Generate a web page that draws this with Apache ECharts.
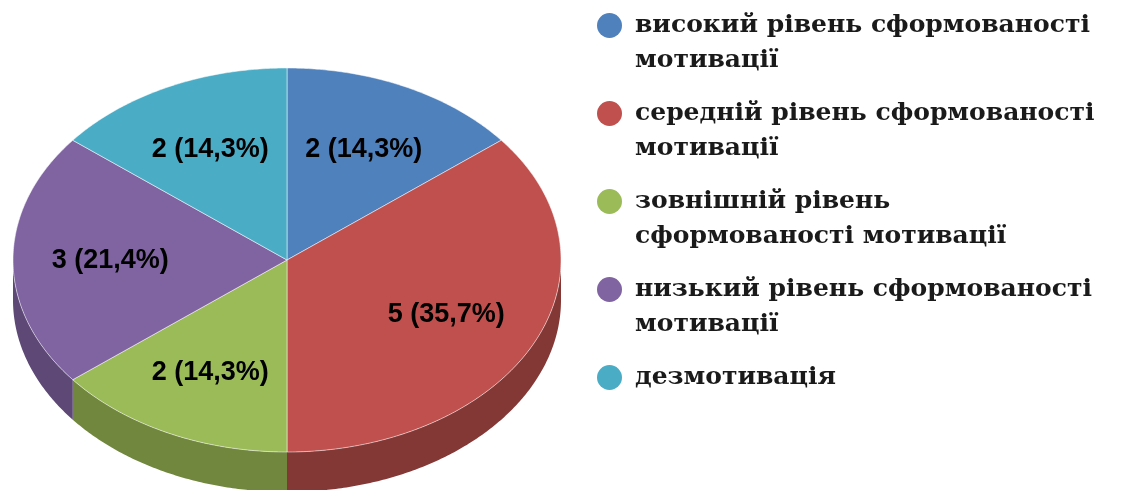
<!DOCTYPE html>
<html>
<head>
<meta charset="utf-8">
<script src="https://cdn.jsdelivr.net/npm/echarts@6/dist/echarts.min.js"></script>
<style>
  html, body { margin: 0; padding: 0; background: #fff; }
  #main { width: 1137px; height: 490px; }
</style>
</head>
<body>
<div id="main"></div>
<script>
const categories = [
  "високий рівень сформованості мотивації",
  "середній рівень сформованості мотивації",
  "зовнішній рівень сформованості мотивації",
  "низький рівень сформованості мотивації",
  "дезмотивація",
];
const legendText = [
  "високий рівень сформованості\nмотивації",
  "середній рівень сформованості\nмотивації",
  "зовнішній рівень\nсформованості мотивації",
  "низький рівень сформованості\nмотивації",
  "дезмотивація",
];
const counts = [2, 5, 2, 3, 2];
const colors = ["#4F81BD", "#C0504D", "#9BBB59", "#8064A2", "#4BACC6"];
const sideColors = ["#3A6496", "#843836", "#71873E", "#5D4876", "#357F93"];

// pie geometry (ellipse + depth)
const geo = { cx: 287, cy: 260, rx: 274, ry: 192, depth: 40, labelR: 0.645 };

const total = counts.reduce((a, b) => a + b, 0);
const starts = counts.map((_, i) => counts.slice(0, i).reduce((a, b) => a + b, 0));

const rim = (a, r, dy) => [
  geo.cx + geo.rx * r * Math.sin(a),
  geo.cy - geo.ry * r * Math.cos(a) + dy,
];
const arc = (a0, a1, dy) => {
  const n = Math.max(2, Math.ceil((a1 - a0) / 0.01));
  const pts = [];
  for (let k = 0; k <= n; k++) pts.push(rim(a0 + ((a1 - a0) * k) / n, 1, dy));
  return pts;
};

const renderSlice = (i) => (params, api) => {
  const start = api.value(0);
  const value = api.value(1);
  const a0 = (start / total) * 2 * Math.PI;
  const a1 = ((start + value) / total) * 2 * Math.PI;
  const children = [];

  // outer wall, only on the front half
  const s0 = Math.max(a0, Math.PI / 2);
  const s1 = Math.min(a1, (3 * Math.PI) / 2);
  if (s1 > s0) {
    children.push({
      type: "polygon",
      z2: 0,
      shape: { points: arc(s0, s1, 0).concat(arc(s0, s1, geo.depth).reverse()) },
      style: { fill: sideColors[i] },
    });
  }

  children.push({
    type: "polygon",
    z2: 1,
    shape: { points: [[geo.cx, geo.cy]].concat(arc(a0, a1, 0)) },
    style: { fill: api.visual("color"), stroke: "rgba(255,255,255,0.5)", lineWidth: 1 },
  });

  const [lx, ly] = rim((a0 + a1) / 2, geo.labelR, 1);
  const pct = ((value / total) * 100).toFixed(1).replace(".", ",");
  children.push({
    type: "text",
    z2: 2,
    x: lx,
    y: ly,
    style: {
      text: `${value} (${pct}%)`,
      font: 'bold 27px "Liberation Sans", Arial, sans-serif',
      fill: "#000",
      align: "center",
      verticalAlign: "middle",
    },
  });

  return { type: "group", children };
};

const option = {
  animation: false,
  backgroundColor: "#fff",
  legend: {
    orient: "vertical",
    left: 597,
    top: -27,
    padding: 0,
    itemWidth: 41,
    itemHeight: 25,
    itemGap: -17,
    icon: "circle",
    data: categories,
    formatter: (name) => {
      const t = legendText[categories.indexOf(name)];
      return "\n" + t + (t.includes("\n") ? "" : "\n");
    },
    textStyle: {
      fontFamily: '"DejaVu Serif", serif',
      fontWeight: "bold",
      fontSize: 25,
      lineHeight: 35,
      color: "#1a1a1a",
    },
  },
  series: categories.map((name, i) => ({
    type: "custom",
    name,
    coordinateSystem: "none",
    itemStyle: { color: colors[i] },
    data: [[starts[i], counts[i]]],
    renderItem: renderSlice(i),
  })),
};

const myChart = echarts.init(document.getElementById("main"));
myChart.setOption(option);
</script>
</body>
</html>
